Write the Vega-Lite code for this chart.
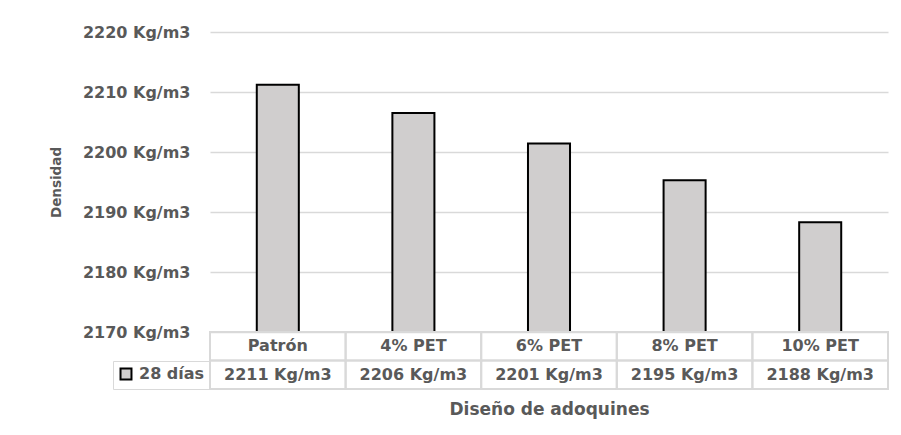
{
  "$schema": "https://vega.github.io/schema/vega-lite/v6.json",
  "padding": {"left": 49, "top": 24, "right": 5, "bottom": 5},
  "background": "white",
  "bounds": "flush",
  "config": {
    "font": "DejaVu Sans",
    "view": {"stroke": null},
    "concat": {"spacing": 0}
  },
  "data": {
    "values": [
      {"diseno": "Patrón", "densidad": 2211.2, "etiqueta": "2211 Kg/m3", "serie": "28 días"},
      {"diseno": "4% PET", "densidad": 2206.5, "etiqueta": "2206 Kg/m3", "serie": "28 días"},
      {"diseno": "6% PET", "densidad": 2201.4, "etiqueta": "2201 Kg/m3", "serie": "28 días"},
      {"diseno": "8% PET", "densidad": 2195.3, "etiqueta": "2195 Kg/m3", "serie": "28 días"},
      {"diseno": "10% PET", "densidad": 2188.3, "etiqueta": "2188 Kg/m3", "serie": "28 días"}
    ]
  },
  "resolve": {"scale": {"x": "independent", "y": "independent", "fill": "independent"}, "legend": {"fill": "independent"}},
  "vconcat": [
    {
      "width": 678,
      "height": 300,
      "mark": {"type": "bar", "stroke": "black", "strokeWidth": 2},
      "encoding": {
        "x": {"field": "diseno", "type": "nominal", "sort": null, "scale": {"paddingInner": 0.69, "paddingOuter": 0.345}, "axis": null},
        "y": {
          "field": "densidad", "type": "quantitative",
          "scale": {"domain": [2170, 2220], "zero": false, "nice": false},
          "axis": {
            "title": "Densidad", "values": [2170, 2180, 2190, 2200, 2210, 2220],
            "labelExpr": "datum.value + ' Kg/m3'",
            "domain": false, "ticks": false,
            "gridColor": "#d9d9d9", "gridWidth": 1.5,
            "labelFontSize": 16, "labelColor": "#595959", "labelFontWeight": "bold", "labelPadding": 20,
            "titleFontSize": 13.5, "titleColor": "#595959", "titleFontWeight": "bold", "titlePadding": 19
          }
        },
        "y2": {"datum": 2170},
        "fill": {
          "field": "serie", "type": "nominal",
          "scale": {"range": ["#d0cece"]},
          "legend": {
            "orient": "none", "legendX": -97, "legendY": 329,
            "title": null, "strokeColor": "#d9d9d9", "padding": 5,
            "symbolType": "square", "symbolStrokeColor": "black", "symbolStrokeWidth": 2, "symbolSize": 120,
            "labelFontSize": 16, "labelFontWeight": "bold", "labelColor": "#595959", "labelOffset": 5
          }
        }
      }
    },
    {
      "width": 678,
      "height": 57,
      "transform": [{"fold": ["diseno", "etiqueta"], "as": ["fila", "texto"]}],
      "encoding": {
        "x": {
          "field": "diseno", "type": "nominal", "sort": null,
          "scale": {"paddingInner": 0, "paddingOuter": 0},
          "axis": {"title": "Diseño de adoquines", "labels": false, "ticks": false, "domain": false,
                   "titleFontSize": 17, "titleColor": "#595959", "titleFontWeight": "bold", "titlePadding": 12}
        },
        "y": {"field": "fila", "type": "nominal", "sort": ["diseno", "etiqueta"], "scale": {"paddingInner": 0, "paddingOuter": 0}, "axis": null}
      },
      "layer": [
        {"mark": {"type": "rect", "filled": false, "stroke": "#d9d9d9", "strokeWidth": 2}},
        {"mark": {"type": "text", "fontSize": 16, "fontWeight": "bold", "color": "#595959"}, "encoding": {"text": {"field": "texto"}}}
      ]
    }
  ]
}
